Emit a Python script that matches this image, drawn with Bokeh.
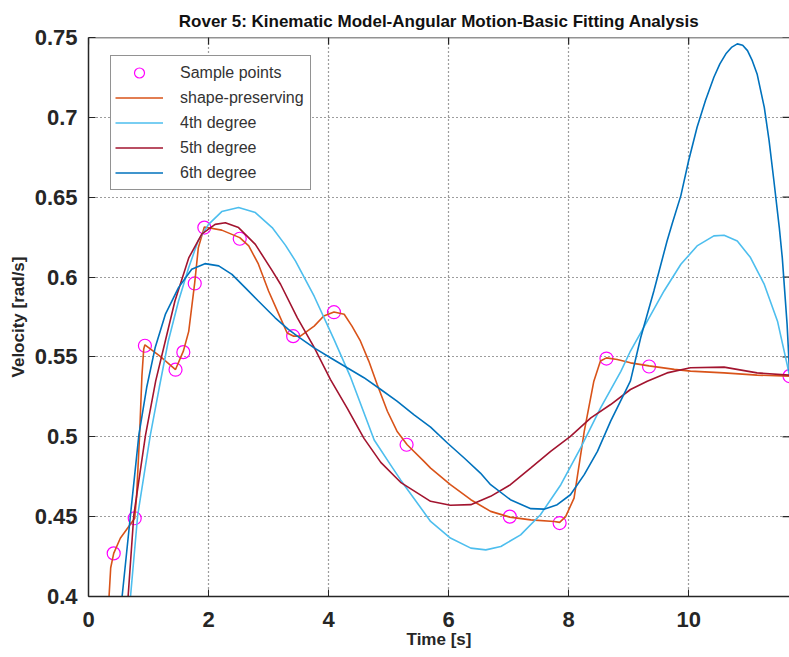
import numpy as np
from bokeh.plotting import figure
from bokeh.models import Range1d, FixedTicker, Legend, LegendItem, Span
from bokeh.embed import file_html
from bokeh.resources import INLINE

# ---- data ----
sample_t = [0.42, 0.77, 0.94, 1.45, 1.58, 1.77, 1.93, 2.52, 3.41, 4.09, 5.30, 7.02, 7.85, 8.63, 9.34, 11.68]
sample_v = [0.427, 0.449, 0.557, 0.542, 0.553, 0.596, 0.631, 0.624, 0.563, 0.578, 0.495, 0.450, 0.446, 0.549, 0.544, 0.538]

pchip_t = [0.33, 0.37, 0.42, 0.53, 0.77, 0.80, 0.85, 0.89, 0.92, 0.94, 1.19, 1.45, 1.58, 1.67, 1.77, 1.83,
           1.93, 2.22, 2.52, 2.67, 2.83, 3.00, 3.17, 3.31, 3.42, 3.53, 3.76, 3.92, 4.09, 4.26, 4.39, 4.53,
           4.67, 4.81, 4.98, 5.14, 5.31, 5.59, 5.70, 6.03, 6.37, 6.70, 7.02, 7.37, 7.76, 7.85, 7.95, 8.09,
           8.26, 8.42, 8.53, 8.63, 8.81, 9.03, 9.34, 9.76, 10.03, 10.59, 11.14, 11.68]
pchip_v = [0.392, 0.418, 0.427, 0.4365, 0.449, 0.462, 0.500, 0.538, 0.555, 0.5576, 0.5505, 0.5421, 0.5536, 0.566, 0.5965, 0.6184,
           0.6314, 0.6294, 0.6247, 0.6195, 0.6082, 0.5913, 0.5768, 0.565, 0.563, 0.563, 0.5693, 0.5756, 0.5781, 0.5767, 0.5693, 0.560,
           0.5474, 0.5327, 0.516, 0.5035, 0.495, 0.4846, 0.4804, 0.470, 0.4606, 0.4533, 0.4497, 0.448, 0.447, 0.4464, 0.450, 0.4616,
           0.5034, 0.5348, 0.5474, 0.5494, 0.5484, 0.5463, 0.5444, 0.5422, 0.5411, 0.540, 0.5386, 0.538]

deg4_t = [0.69, 0.70, 0.82, 1.03, 1.18, 1.33, 1.50, 1.67, 1.83, 2.00, 2.22, 2.50, 2.78, 3.06, 3.28, 3.45,
          3.76, 4.09, 4.37, 4.76, 5.03, 5.20, 5.70, 6.03, 6.37, 6.62, 6.87, 7.20, 7.53, 7.87, 8.20, 8.53,
          8.87, 9.03, 9.31, 9.59, 9.87, 10.14, 10.42, 10.59, 10.81, 11.03, 11.26, 11.48, 11.64, 11.68]
deg4_v = [0.395, 0.400, 0.451, 0.501, 0.531, 0.560, 0.585, 0.606, 0.623, 0.633, 0.641, 0.6435, 0.6404, 0.631, 0.620, 0.610,
          0.588, 0.561, 0.537, 0.498, 0.4826, 0.473, 0.447, 0.4366, 0.4303, 0.4292, 0.4313, 0.4386, 0.4512, 0.470, 0.493, 0.518,
          0.541, 0.5537, 0.5724, 0.5913, 0.608, 0.6195, 0.6258, 0.6262, 0.6226, 0.6122, 0.5954, 0.5724, 0.5453, 0.538]

deg5_t = [0.65, 0.66, 0.755, 0.95, 1.12, 1.28, 1.44, 1.67, 1.89, 2.11, 2.28, 2.50, 2.78, 3.06, 3.20, 3.48,
          3.76, 4.03, 4.31, 4.59, 4.87, 5.20, 5.70, 6.03, 6.37, 6.70, 7.03, 7.37, 7.70, 8.03, 8.37, 8.70,
          9.03, 9.31, 9.64, 10.03, 10.59, 11.14, 11.68]
deg5_v = [0.395, 0.400, 0.451, 0.501, 0.535, 0.560, 0.585, 0.612, 0.627, 0.633, 0.634, 0.631, 0.6205, 0.604, 0.5955, 0.5745,
          0.556, 0.536, 0.518, 0.499, 0.484, 0.4715, 0.4596, 0.4571, 0.4575, 0.4627, 0.470, 0.4805, 0.4909, 0.5003, 0.5118, 0.5202,
          0.5296, 0.5348, 0.540, 0.5432, 0.5436, 0.540, 0.5386]

deg6_t = [0.55, 0.56, 0.70, 0.84, 0.97, 1.11, 1.28, 1.50, 1.72, 1.94, 2.17, 2.39, 2.61, 2.83, 3.11, 3.33,
          3.48, 3.76, 4.03, 4.31, 4.59, 4.87, 5.14, 5.42, 5.70, 5.98, 6.26, 6.53, 6.70, 7.03, 7.37, 7.59,
          7.81, 8.03, 8.26, 8.48, 8.70, 8.92, 9.03, 9.20, 9.42, 9.64, 9.73, 9.87, 10.00, 10.14, 10.28, 10.42,
          10.52, 10.62, 10.72, 10.81, 10.90, 10.98, 11.06, 11.14, 11.26, 11.34, 11.42, 11.51, 11.56, 11.64, 11.68]
deg6_v = [0.395, 0.400, 0.4512, 0.5014, 0.531, 0.5557, 0.5766, 0.5934, 0.6049, 0.6084, 0.607, 0.6017, 0.5934, 0.585, 0.5745, 0.5672,
          0.563, 0.5557, 0.5495, 0.5432, 0.537, 0.5296, 0.5223, 0.5139, 0.506, 0.4961, 0.4867, 0.4773, 0.470, 0.4606, 0.455, 0.4547,
          0.4575, 0.4637, 0.4763, 0.4909, 0.5098, 0.5265, 0.535, 0.562, 0.5913, 0.6226, 0.634, 0.651, 0.673, 0.6938, 0.7105, 0.7251,
          0.7335, 0.7398, 0.7440, 0.746, 0.7452, 0.7418, 0.7355, 0.7272, 0.7063, 0.6854, 0.6603, 0.631, 0.612, 0.5704, 0.541]

x_ticks = [0, 2, 4, 6, 8, 10]
x_tick_labels = ["0", "2", "4", "6", "8", "10"]
y_ticks = [0.4, 0.45, 0.5, 0.55, 0.6, 0.65, 0.7, 0.75]
y_tick_labels = ["0.4", "0.45", "0.5", "0.55", "0.6", "0.65", "0.7", "0.75"]
x_limits = [0, 11.68]
y_limits = [0.4, 0.75]

title_text = "Rover 5: Kinematic Model-Angular Motion-Basic Fitting Analysis"
legend_labels = ["Sample points", "shape-preserving", "4th degree", "5th degree", "6th degree"]

# ---- styles ----
FONT = "Liberation Sans"
AX = "#262626"
C_SAMPLE = "#FF00FF"
C_PCHIP = "#D95319"
C_DEG4 = "#4DBEEE"
C_DEG5 = "#A2142F"
C_DEG6 = "#0072BD"

p = figure(width=789, height=657, output_backend="svg", toolbar_location=None,
           x_range=Range1d(*x_limits), y_range=Range1d(*y_limits),
           min_border_left=88, min_border_right=0, min_border_top=37, min_border_bottom=61,
           x_axis_label="Time [s]", y_axis_label="Velocity [rad/s]")
p.outline_line_color = None
p.background_fill_color = "white"
p.border_fill_color = "white"

p.title.text = title_text
p.title.align = "center"
p.title.text_font = FONT
p.title.text_font_size = "17px"
p.title.text_font_style = "bold"
p.title.text_color = "#111111"
p.title.standoff = 13

xt = FixedTicker(ticks=x_ticks)
yt = FixedTicker(ticks=y_ticks)

for ax in p.below + p.left:
    ax.axis_line_color = AX
    ax.axis_line_width = 1.5
    ax.major_tick_in = 7
    ax.major_tick_out = 0
    ax.major_tick_line_color = AX
    ax.major_tick_line_width = 1
    ax.minor_tick_line_color = None
    ax.major_label_text_font = FONT
    ax.major_label_text_font_size = "22px"
    ax.major_label_text_font_style = "bold"
    ax.major_label_text_color = AX
    ax.axis_label_text_font = FONT
    ax.axis_label_text_font_size = "17px"
    ax.axis_label_text_font_style = "bold"
    ax.axis_label_text_color = AX

xa = p.below[0]
xa.ticker = xt
xa.major_label_overrides = {t: l for t, l in zip(x_ticks, x_tick_labels)}
xa.major_label_standoff = 15
xa.axis_label_standoff = 0

ya = p.left[0]
ya.ticker = yt
ya.major_label_overrides = {t: l for t, l in zip(y_ticks, y_tick_labels)}
ya.major_label_standoff = 11
ya.axis_label_standoff = 4

# top border of the box, plus inward ticks on top and right edges
p.add_layout(Span(location=y_limits[1], dimension="width", line_color=AX, line_width=1.5))
p.scatter(x_ticks, [y_limits[1]] * len(x_ticks), marker="dash", angle=np.pi / 2, size=14,
          line_color=AX, line_width=1.2)
p.scatter([x_limits[1]] * len(y_ticks), y_ticks, marker="dash", size=14,
          line_color=AX, line_width=1.2)

p.xgrid.ticker = xt
p.ygrid.ticker = yt
for g in (p.xgrid, p.ygrid):
    g.grid_line_color = AX
    g.grid_line_alpha = 0.9
    g.grid_line_dash = "1 3"
    g.grid_line_width = 1.2

r_s = p.scatter(sample_t, sample_v, marker="circle", size=13, fill_color=None,
                line_color=C_SAMPLE, line_width=1.2)
r_p = p.line(pchip_t, pchip_v, line_color=C_PCHIP, line_width=1.6)
r_4 = p.line(deg4_t, deg4_v, line_color=C_DEG4, line_width=1.6)
r_5 = p.line(deg5_t, deg5_v, line_color=C_DEG5, line_width=1.6)
r_6 = p.line(deg6_t, deg6_v, line_color=C_DEG6, line_width=1.6)

legend = Legend(items=[LegendItem(label=l, renderers=[r]) for l, r in
                       zip(legend_labels, [r_s, r_p, r_4, r_5, r_6])],
                location=(22, 406), margin=0, padding=4, spacing=0,
                glyph_width=48, glyph_height=25, label_height=25, label_width=126,
                label_standoff=17,
                label_text_font=FONT, label_text_font_size="16px", label_text_color="#333333",
                border_line_color=AX, border_line_width=1,
                background_fill_color="white", background_fill_alpha=1)
p.add_layout(legend)

open("out.html", "w").write(file_html(p, INLINE))
